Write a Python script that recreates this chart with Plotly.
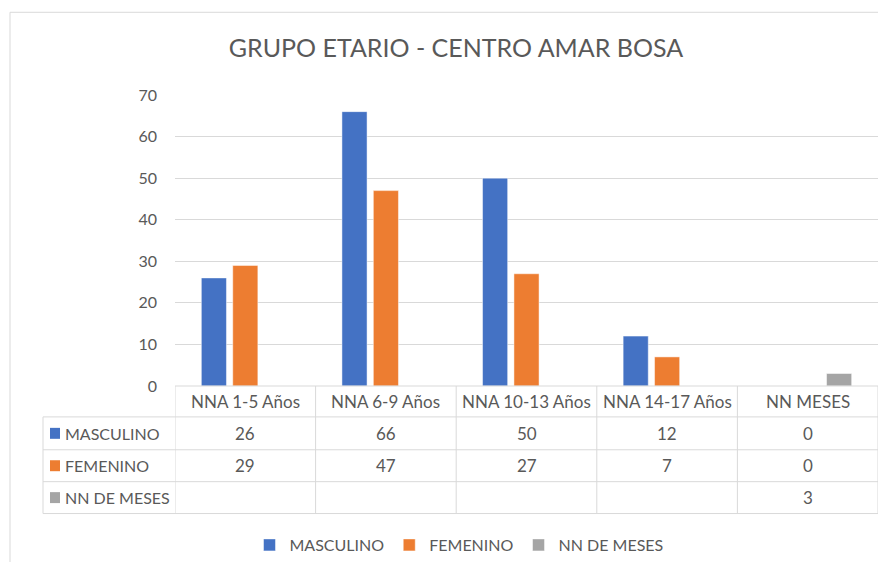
import plotly.graph_objects as go

# ---------------- data ----------------
categories = ["NNA 1-5 Años", "NNA 6-9 Años", "NNA 10-13 Años", "NNA 14-17 Años", "NN MESES"]
series_names = ["MASCULINO", "FEMENINO", "NN DE MESES"]
masculino = [26, 66, 50, 12, 0]
femenino = [29, 47, 27, 7, 0]
nn_meses = [None, None, None, None, 3]
y_ticks = [0, 10, 20, 30, 40, 50, 60, 70]
title_text = "GRUPO ETARIO - CENTRO AMAR BOSA"

# ---------------- style ----------------
colors = ["#4472C4", "#ED7D31", "#A5A5A5"]
TXT = "#595959"
GRID = "#D9D9D9"
FONT = "Lato, Roboto, sans-serif"

OFF = 8                      # page body margin
W, H = 886 - 2 * OFF, 570 - 2 * OFF
# plot area in page pixels
PL, PR, PT, PB = 175, 878, 95, 387
pw, ph = PR - PL, PB - PT


def px(x):
    return (x - PL) / pw


def py(y):
    return (PB - y) / ph


series = [masculino, femenino, nn_meses]

fig = go.Figure()
for name, vals, col in zip(series_names, series, colors):
    fig.add_trace(go.Bar(
        x=categories, y=vals, name=name,
        marker=dict(color=col, line=dict(color="rgba(255,255,255,0.6)", width=0.8)),
        hoverinfo="x+y+name",
    ))

shapes = []
annotations = []

# outer chart border
shapes.append(dict(type="rect", xref="paper", yref="paper",
                   x0=px(10), x1=px(900), y0=py(600), y1=py(12),
                   line=dict(color=GRID, width=1), layer="below"))

# data table
row_edges = [387, 418, 451, 483, 515]
left_edge = 43
n = len(categories)
for i, yy in enumerate(row_edges):
    if i == 0:
        shapes.append(dict(type="line", xref="x", yref="paper",
                           x0=-0.5, x1=n - 0.5, y0=py(yy), y1=py(yy),
                           line=dict(color=GRID, width=1)))
    else:
        shapes.append(dict(type="line", xref="paper", yref="paper",
                           x0=px(left_edge), x1=1, y0=py(yy), y1=py(yy),
                           line=dict(color=GRID, width=1)))
for i in range(n + 1):
    shapes.append(dict(type="line", xref="x", yref="paper",
                       x0=i - 0.5, x1=i - 0.5, y0=py(row_edges[0]), y1=py(row_edges[-1]),
                       line=dict(color=GRID, width=1)))
shapes.append(dict(type="line", xref="paper", yref="paper",
                   x0=px(left_edge), x1=px(left_edge), y0=py(row_edges[1]), y1=py(row_edges[-1]),
                   line=dict(color=GRID, width=1)))

TS = 17
LS = 16
hy = py((row_edges[0] + row_edges[1]) / 2)
for c in categories:
    annotations.append(dict(x=c, y=hy, xref="x", yref="paper", text=c, showarrow=False,
                            font=dict(family=FONT, size=TS, color=TXT),
                            xanchor="center", yanchor="middle"))
for r, (name, vals, col) in enumerate(zip(series_names, series, colors)):
    yc = (row_edges[r + 1] + row_edges[r + 2]) / 2
    shapes.append(dict(type="rect", xref="paper", yref="paper",
                       x0=px(50), x1=px(60), y0=py(yc + 5.5), y1=py(yc - 5.5),
                       fillcolor=col, line=dict(width=0)))
    annotations.append(dict(x=px(63), y=py(yc), xref="paper", yref="paper", text=name,
                            showarrow=False, font=dict(family=FONT, size=LS, color=TXT),
                            xanchor="left", yanchor="middle"))
    for c, v in zip(categories, vals):
        if v is None:
            continue
        annotations.append(dict(x=c, y=py(yc), xref="x", yref="paper", text=str(v),
                                showarrow=False, font=dict(family=FONT, size=TS, color=TXT),
                                xanchor="center", yanchor="middle"))

fig.update_layout(
    width=W, height=H,
    margin=dict(l=PL - OFF, r=W - (PR - OFF), t=PT - OFF, b=H - (PB - OFF), pad=0),
    paper_bgcolor="white", plot_bgcolor="white",
    title=dict(text=title_text, x=(456 - OFF) / W, xanchor="center",
               y=1 - (48 - OFF) / H, yanchor="middle",
               font=dict(family=FONT, size=25, color=TXT)),
    barmode="group", bargap=0.33, bargroupgap=0.2,
    font=dict(family=FONT, color=TXT),
    xaxis=dict(type="category", range=[-0.5, n - 0.5], showticklabels=False,
               showgrid=False, showline=False, zeroline=False, ticks=""),
    yaxis=dict(range=[0, 70], tickvals=y_ticks, showgrid=True, gridcolor=GRID, gridwidth=1,
               zeroline=False, showline=False, ticks="", ticklabelstandoff=17,
               tickfont=dict(family=FONT, size=16, color=TXT)),
    legend=dict(orientation="h", x=px(459), xanchor="center", y=py(546), yanchor="middle",
                font=dict(family=FONT, size=16, color=TXT), itemwidth=30,
                bgcolor="rgba(0,0,0,0)"),
    shapes=shapes, annotations=annotations,
)

fig.write_html("out.html")
